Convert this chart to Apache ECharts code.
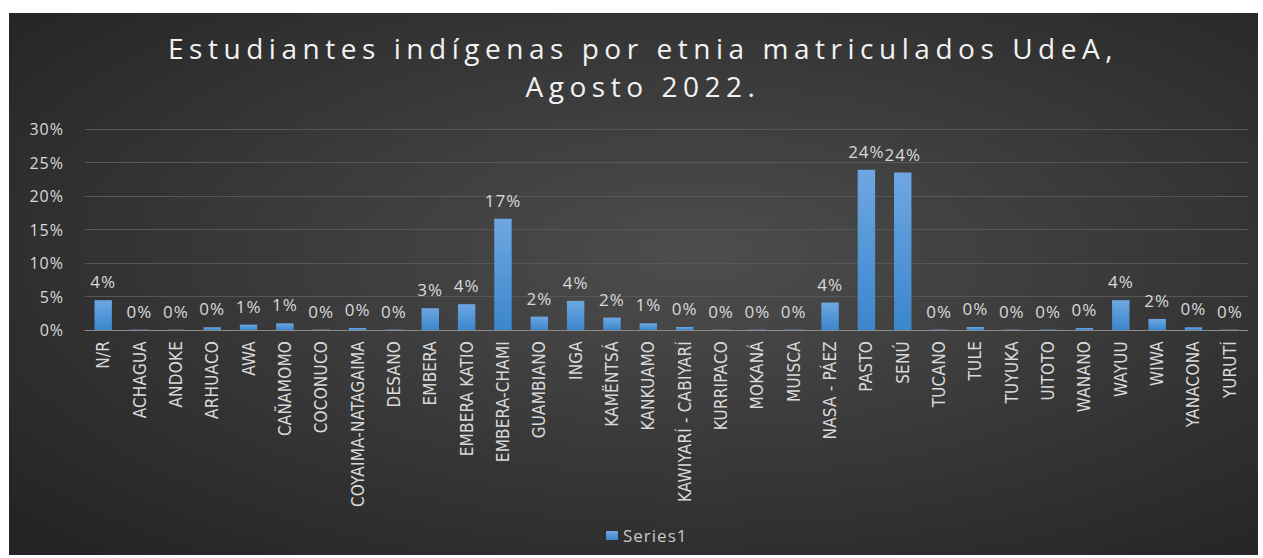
<!DOCTYPE html>
<html>
<head>
<meta charset="utf-8">
<script src="https://cdn.jsdelivr.net/npm/echarts@6/dist/echarts.min.js"></script>
<style>
  html, body { margin: 0; padding: 0; background: #ffffff; }
  #chart { position: absolute; left: 9px; top: 13px; width: 1249px; height: 542px; }
  #chart svg text { letter-spacing: 1px; }
</style>
</head>
<body>
<div id="chart"></div>
<script>
// etnias (categorías del eje X)
const etnias = ['N/R', 'ACHAGUA', 'ANDOKE', 'ARHUACO', 'AWA', 'CAÑAMOMO', 'COCONUCO',
  'COYAIMA-NATAGAIMA', 'DESANO', 'EMBERA', 'EMBERA KATIO', 'EMBERA-CHAMI', 'GUAMBIANO',
  'INGA', 'KAMËNTSÁ', 'KANKUAMO', 'KAWIYARÍ - CABIYARÍ', 'KURRIPACO', 'MOKANÁ', 'MUISCA',
  'NASA - PÁEZ', 'PASTO', 'SENÚ', 'TUCANO', 'TULE', 'TUYUKA', 'UITOTO', 'WANANO', 'WAYUU',
  'WIWA', 'YANACONA', 'YURUTÍ'];
// porcentaje de estudiantes
const porcentajes = [4.45, 0.05, 0.05, 0.4, 0.8, 1.0, 0.05,
  0.3, 0.05, 3.25, 3.85, 16.6, 2.0,
  4.35, 1.85, 1.0, 0.45, 0.05, 0.05, 0.05,
  4.1, 23.9, 23.5, 0.05, 0.45, 0.05, 0.05, 0.3, 4.45,
  1.65, 0.4, 0.05];
const yTicks = { min: 0, max: 30, interval: 5 };
const titulo = 'Estudiantes indígenas por etnia matriculados UdeA,\nAgosto 2022.';

let myChart = echarts.init(document.getElementById('chart'), null, { renderer: 'svg' });
const option = {
  animation: false,
  backgroundColor: new echarts.graphic.RadialGradient(0.55, 0.45, 0.75, [
    { offset: 0, color: '#4d4d4d' },
    { offset: 1, color: '#232323' }
  ]),
  title: {
    text: titulo,
    left: 629,
    textAlign: 'center',
    top: 11,
    textStyle: {
      color: '#f2f2f2',
      fontFamily: 'Open Sans',
      fontSize: 28,
      fontWeight: 'normal',
      lineHeight: 38
    }
  },
  legend: {
    bottom: 6,
    left: 592,
    icon: 'rect',
    itemWidth: 12,
    itemHeight: 9,
    itemGap: 6,
    textStyle: { color: '#c8c8c8', fontSize: 17, fontFamily: 'Open Sans' },
    data: ['Series1']
  },
  grid: { left: 76, right: 10, top: 116, bottom: 225 },
  xAxis: {
    type: 'category',
    data: etnias,
    axisLine: { lineStyle: { color: '#8c8c8c', width: 1 } },
    axisTick: { show: false },
    axisLabel: {
      rotate: 90,
      interval: 0,
      color: '#d9d9d9',
      fontSize: 17,
      fontFamily: 'Liberation Sans Narrow, DejaVu Sans Condensed, sans-serif',
      margin: 11
    }
  },
  yAxis: {
    type: 'value',
    min: yTicks.min,
    max: yTicks.max,
    interval: yTicks.interval,
    axisLine: { show: false },
    axisTick: { show: false },
    splitLine: { lineStyle: { color: '#575757', width: 1 } },
    axisLabel: {
      formatter: '{value}%',
      color: '#d9d9d9',
      fontSize: 16,
      fontFamily: 'Open Sans',
      margin: 21
    }
  },
  series: [
    {
      name: 'Series1',
      type: 'bar',
      data: porcentajes,
      barWidth: '48%',
      itemStyle: {
        color: new echarts.graphic.LinearGradient(0, 0, 0, 1, [
          { offset: 0, color: '#6ea7e2' },
          { offset: 1, color: '#3b86cc' }
        ])
      },
      label: {
        show: true,
        position: 'top',
        distance: 10,
        color: '#d9d9d9',
        fontSize: 17,
        fontFamily: 'Open Sans',
        formatter: p => Math.round(p.value) + '%'
      }
    }
  ]
};
myChart.setOption(option);

// espaciado de letras (título y etiquetas del eje X), como en el original
function espaciar(t, ancho) {
  t.style.letterSpacing = '0px';
  const w = t.getComputedTextLength();
  return Math.max(0, (ancho - w) / t.textContent.length);
}
function ajustarTextos() {
  const textos = Array.from(document.querySelectorAll('#chart svg text'));
  const ejeX = textos.filter(t => etnias.indexOf(t.textContent) >= 0);
  const largo = ejeX.find(t => t.textContent === 'COYAIMA-NATAGAIMA');
  if (largo) {
    const e = espaciar(largo, 166).toFixed(2) + 'px';
    ejeX.forEach(t => { t.style.letterSpacing = e; });
  }
  const l1 = textos.find(t => t.textContent.indexOf('Estudiantes') === 0);
  const l2 = textos.find(t => t.textContent.indexOf('Agosto') === 0);
  if (l1) {
    const e = espaciar(l1, 950).toFixed(2) + 'px';
    [l1, l2].forEach(t => { if (t) t.style.letterSpacing = e; });
  }
}
ajustarTextos();
myChart.on('finished', ajustarTextos);
window.addEventListener('resize', () => myChart.resize());
</script>
</body>
</html>
